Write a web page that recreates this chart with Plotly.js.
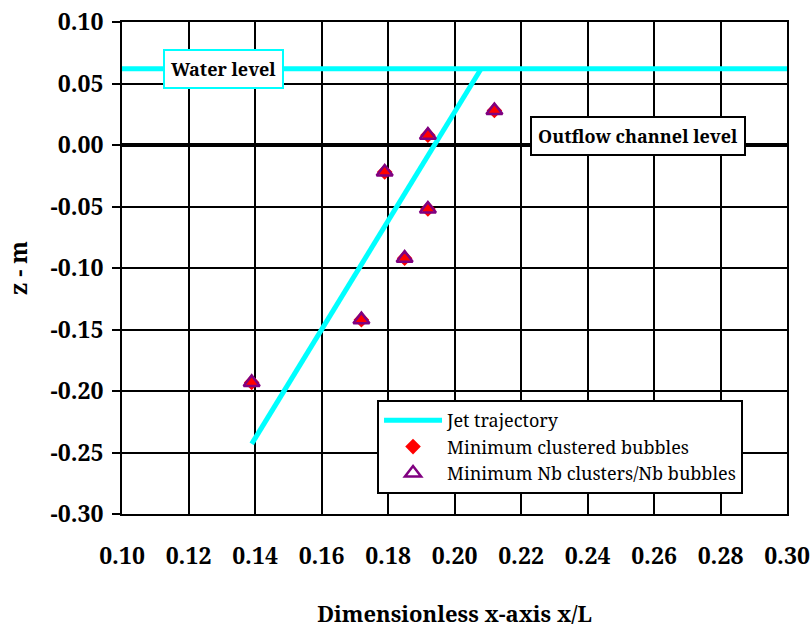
<!DOCTYPE html>
<html>
<head>
<meta charset="utf-8">
<script src="https://cdn.plot.ly/plotly-3.0.1.min.js"></script>
<style>html,body{margin:0;padding:0;background:#fff;}#chart{width:811px;height:628px;}</style>
</head>
<body>
<div id="chart"></div>
<script>
// Data
var jetX = [0.139, 0.208];
var jetZ = [-0.243, 0.062];
var waterX = [0.10, 0.30];
var waterZ = [0.062, 0.062];
var bubX = [0.139, 0.172, 0.185, 0.179, 0.192, 0.192, 0.212];
var clusteredZ = [-0.193, -0.142, -0.092, -0.022, -0.052, 0.008, 0.028];
var ratioZ = [-0.193, -0.142, -0.092, -0.022, -0.052, 0.008, 0.028];
var xTickVals = [0.10, 0.12, 0.14, 0.16, 0.18, 0.20, 0.22, 0.24, 0.26, 0.28, 0.30];
var xTickText = ["0.10", "0.12", "0.14", "0.16", "0.18", "0.20", "0.22", "0.24", "0.26", "0.28", "0.30"];
var yTickVals = [0.10, 0.05, 0.00, -0.05, -0.10, -0.15, -0.20, -0.25, -0.30];
var yTickText = ["0.10", "0.05", "0.00", "-0.05", "-0.10", "-0.15", "-0.20", "-0.25", "-0.30"];

var serif = "Noto Serif, DejaVu Serif, serif";

var traces = [
  {x: waterX, y: waterZ, mode: "lines", line: {color: "#00FFFF", width: 5}, showlegend: false, hoverinfo: "skip"},
  {x: jetX, y: jetZ, mode: "lines", name: "Jet trajectory", line: {color: "#00FFFF", width: 5}},
  {x: bubX, y: clusteredZ, mode: "markers", name: "Minimum clustered bubbles",
   marker: {symbol: "diamond", color: "#FF0000", size: 12}},
  {x: bubX, y: ratioZ, mode: "markers", name: "Minimum Nb clusters/Nb bubbles",
   marker: {symbol: "triangle-up-open", color: "#800080", size: 14, line: {color: "#800080", width: 2.5}}}
];

var layout = {
  width: 811, height: 628,
  margin: {l: 122, r: 24, t: 22, b: 114},
  paper_bgcolor: "#fff", plot_bgcolor: "#fff",
  font: {family: serif, color: "#000"},
  xaxis: {
    range: [0.10, 0.30], tickvals: xTickVals, ticktext: xTickText,
    showgrid: true, gridcolor: "#000", gridwidth: 2,
    zeroline: false, showline: true, linecolor: "#000", linewidth: 2, mirror: true,
    ticks: "", ticklabelstandoff: 20,
    tickfont: {family: serif, size: 23, color: "#000", weight: "bold"},
    title: {text: "<b>Dimensionless x-axis x/L</b>", font: {family: serif, size: 22, color: "#000"}, standoff: 39}
  },
  yaxis: {
    range: [-0.30, 0.10], tickvals: yTickVals, ticktext: yTickText,
    showgrid: true, gridcolor: "#000", gridwidth: 2,
    zeroline: true, zerolinecolor: "#000", zerolinewidth: 4,
    showline: true, linecolor: "#000", linewidth: 2, mirror: true,
    ticks: "outside", ticklen: 8, tickwidth: 2, tickcolor: "#000", ticklabelstandoff: 4,
    tickfont: {family: serif, size: 23, color: "#000", weight: "bold"},
    title: {text: "<b>z - m</b>", font: {family: serif, size: 23, color: "#000"}, standoff: 16}
  },
  legend: {
    x: 0.3835, y: 0.2317, xanchor: "left", yanchor: "top",
    bgcolor: "#fff", bordercolor: "#000", borderwidth: 2,
    font: {family: serif, size: 18, color: "#000"},
    itemwidth: 58, tracegroupgap: 0
  },
  annotations: [
    {x: 0.1305, y: 0.062, xref: "x", yref: "y", text: "<b>Water level</b>", showarrow: false,
     font: {family: serif, size: 18, color: "#000"}, bgcolor: "#fff", bordercolor: "#00FFFF", borderwidth: 2, borderpad: 6},
    {x: 0.2551, y: 0.0071, xref: "x", yref: "y", text: "<b>Outflow channel level</b>", showarrow: false,
     font: {family: serif, size: 18, color: "#000"}, bgcolor: "#fff", bordercolor: "#000", borderwidth: 2, borderpad: 6}
  ]
};

Plotly.newPlot("chart", traces, layout, {displayModeBar: false, staticPlot: true});
</script>
</body>
</html>
